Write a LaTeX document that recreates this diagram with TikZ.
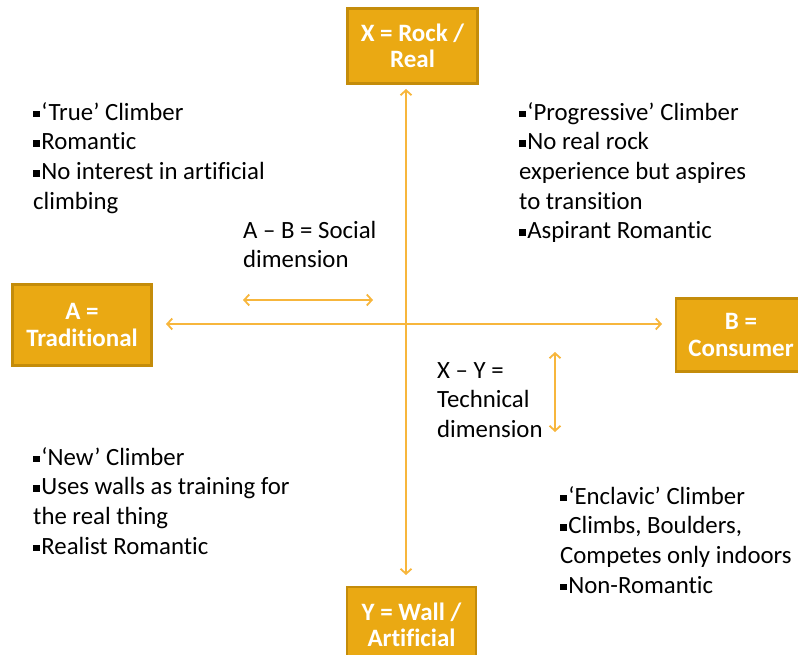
\documentclass[tikz,border=0pt]{standalone}
\usepackage{fontspec}
\setmainfont[RawFeature={-liga}]{Carlito}
\usetikzlibrary{arrows.meta}
\definecolor{boxfill}{RGB}{234,169,19}
\definecolor{boxedge}{RGB}{196,140,10}
\definecolor{arrowc}{RGB}{247,182,60}
\newcommand{\blt}{\raisebox{0.12em}{\rule{0.27em}{0.27em}}\hspace{0.06em}}
\tikzset{
  gbox/.style={draw=boxedge, line width=2.4pt, fill=boxfill, text=white,
    font=\fontsize{25}{26.5}\selectfont\bfseries, align=center, inner sep=0pt},
  axis/.style={draw=arrowc, line width=1.8pt,
    {Straight Barb[length=5pt,width=11pt]}-{Straight Barb[length=5pt,width=11pt]}},
  lbl/.style={font=\fontsize{24.8}{29.7}\selectfont, align=left, anchor=north west, inner sep=0pt}
}
\begin{document}
\begin{tikzpicture}[x=1pt,y=-1pt]
\useasboundingbox (0,0) rectangle (798,655);
\clip (0,0) rectangle (798,655);
% boxes
\node[gbox, minimum width=130pt, minimum height=75pt] (X) at (412.5,46) {X = Rock /\\Real};
\node[gbox, minimum width=139pt, minimum height=81pt] (A) at (82,325) {A =\\Traditional};
\node[gbox, minimum width=130pt, minimum height=73pt] (B) at (741,335) {B =\\Consumer};
\node[gbox, minimum width=129pt, minimum height=76pt] (Y) at (411.5,625) {Y = Wall /\\Artificial};
% axes
\coordinate (vt) at (406,89);
\coordinate (vb) at (406,575);
\coordinate (hl) at (166,324);
\coordinate (hr) at (662,324);
\draw[axis] (vt) -- (vb);
\draw[axis] (hl) -- (hr);
\coordinate (sl) at (243,300);
\coordinate (sr) at (373,300);
\draw[axis] (sl) -- (sr);
\coordinate (st) at (555,352);
\coordinate (sb) at (555,432);
\draw[axis] (st) -- (sb);
% texts (top = baseline - 20)
\node[lbl] (tl) at (33,100) {\rule{0pt}{20pt}\blt‘True’ Climber\\\blt Romantic\\\blt No interest in artificial\\climbing};
\node[lbl] (tr) at (519,100) {\rule{0pt}{20pt}\blt‘Progressive’ Climber\\\blt No real rock\\experience but aspires\\to transition\\\blt Aspirant Romantic};
\node[lbl] (ab) at (243,218) {\rule{0pt}{20pt}A – B = Social\\dimension};
\node[lbl] (xy) at (437,358) {\rule{0pt}{20pt}X – Y =\\Technical\\dimension};
\node[lbl] (bl) at (33,445) {\rule{0pt}{20pt}\blt‘New’ Climber\\\blt Uses walls as training for\\the real thing\\\blt Realist Romantic};
\node[lbl] (br) at (560,484) {\rule{0pt}{20pt}\blt‘Enclavic’ Climber\\\blt Climbs, Boulders,\\Competes only indoors\\\blt Non-Romantic};
\end{tikzpicture}
\end{document}
